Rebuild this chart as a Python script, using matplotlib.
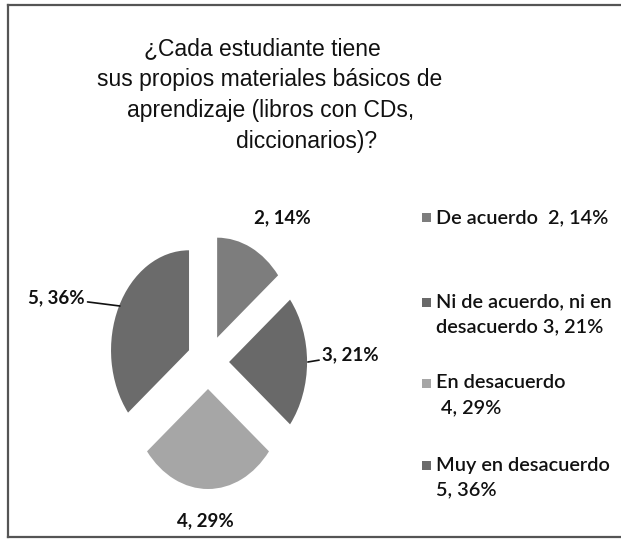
import matplotlib
matplotlib.use('Agg')
import matplotlib.pyplot as plt
from matplotlib.patches import Rectangle
from matplotlib.lines import Line2D

W, H = 621, 539

# data
categories = ['De acuerdo', 'Ni de acuerdo, ni en\ndesacuerdo', 'En desacuerdo', 'Muy en desacuerdo']
values = [2, 3, 4, 5]
percents = [14, 21, 29, 36]
colors = ['#7d7d7d', '#696969', '#a6a6a6', '#6b6b6b']
title_lines = ['¿Cada estudiante tiene',
               'sus propios materiales básicos de',
               'aprendizaje (libros con CDs,',
               'diccionarios)?']

labels = ['%d, %d%%' % (v, p) for v, p in zip(values, percents)]


def fx(x):
    return x / W


def fy(y):
    return 1 - y / H


fig = plt.figure(figsize=(W / 100, H / 100), dpi=100)
fig.patch.set_facecolor('white')

# outer frame: top, left and bottom only, the right side runs off the picture
for xs, ys in [([fx(8), fx(620)], [fy(5), fy(5)]),
               ([fx(8), fx(8)], [fy(5), fy(537)]),
               ([fx(8), fx(620)], [fy(537), fy(537)])]:
    fig.add_artist(Line2D(xs, ys, color='#555555', lw=1.6, transform=fig.transFigure))

# title, one line at a time (lines are not centred on the same x in the original)
title_x = [262, 270, 271, 307]
title_y = [55, 86, 117, 148]
for s, x, y in zip(title_lines, title_x, title_y):
    fig.text(fx(x), fy(y), s, ha='center', va='baseline', fontsize=16.5,
             family='Liberation Sans', color='#111111')

# pie: the original is squeezed horizontally (78 px per unit across, 100 px down)
cx, cy, rx, ry = 208, 362, 78, 100
ax = fig.add_axes([fx(cx - 1.8 * rx), fy(cy + 1.8 * ry), 3.6 * rx / W, 3.6 * ry / H])
wedges, _ = ax.pie(values, colors=colors, startangle=90, counterclock=False,
                   explode=[0.27] * len(values))
ax.set_aspect('auto')
ax.set_xlim(-1.8, 1.8)
ax.set_ylim(-1.8, 1.8)
ax.axis('off')

lab_font = dict(family='Lato', fontsize=13.5, fontweight='bold', color='#111111')
ax.text(0.95, 1.44, labels[0], ha='center', va='center', **lab_font)
ax.annotate(labels[1], xy=(1.28, 0.0), xytext=(1.46, 0.07), ha='left', va='center',
            arrowprops=dict(arrowstyle='-', color='#111111', lw=1.2, shrinkA=0, shrinkB=0),
            **lab_font)
ax.text(-0.03, -1.59, labels[2], ha='center', va='center', **lab_font)
ax.annotate(labels[3], xy=(-1.13, 0.56), xytext=(-1.58, 0.64), ha='right', va='center',
            arrowprops=dict(arrowstyle='-', color='#111111', lw=1.2, shrinkA=0, shrinkB=0),
            **lab_font)

# legend, drawn by hand so the squares sit on the first text line
leg_text = ['De acuerdo  ' + labels[0],
            categories[1] + ' ' + labels[1],
            categories[2] + '\n ' + labels[2],
            categories[3] + '\n' + labels[3]]
leg_y = [218, 302, 383, 465]
for txt, col, y in zip(leg_text, colors, leg_y):
    fig.patches.append(Rectangle((fx(422), fy(y + 4.5)), 9 / W, 9 / H, facecolor=col,
                                 edgecolor='none', transform=fig.transFigure))
    for i, line in enumerate(txt.split('\n')):
        fig.text(fx(436), fy(y + i * 25), line, ha='left', va='center',
                 family='Lato', fontsize=14.3, fontweight='semibold', color='#111111')

fig.savefig('out.png', dpi=100, facecolor='white')
